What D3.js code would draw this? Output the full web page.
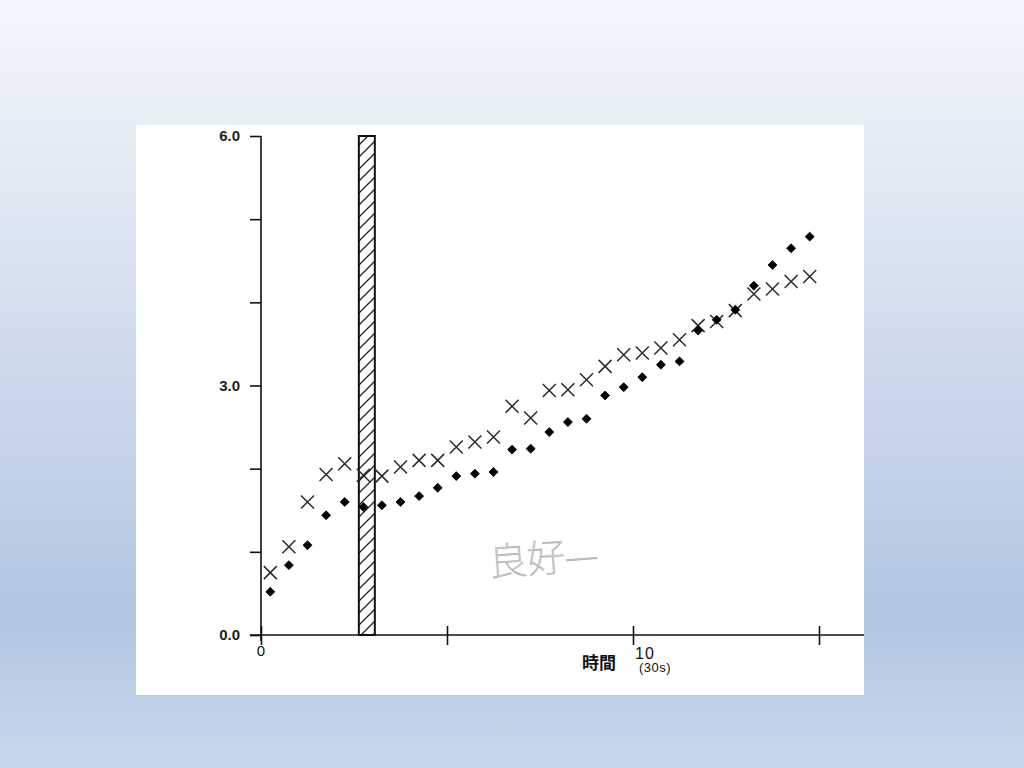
<!DOCTYPE html>
<html>
<head>
<meta charset="utf-8">
<script src="https://cdn.jsdelivr.net/npm/d3@7"></script>
<style>
  body { margin: 0; padding: 0; overflow: hidden; }
  svg { display: block; }
</style>
</head>
<body>
<svg id="chartSvg" width="1024" height="768"></svg>
<script>
        // time points (unit = 30s)
        const timePoints = [0.25, 0.75, 1.25, 1.75, 2.25, 2.75, 3.25, 3.75, 4.25, 4.75,
                            5.25, 5.75, 6.25, 6.75, 7.25, 7.75, 8.25, 8.75, 9.25, 9.75,
                            10.25, 10.75, 11.25, 11.75, 12.25, 12.75, 13.25, 13.75, 14.25, 14.75];
        // "x" series
        const crossValues = [0.75, 1.06, 1.60, 1.93, 2.06, 1.92, 1.91, 2.02, 2.10, 2.10,
                             2.26, 2.32, 2.38, 2.75, 2.61, 2.94, 2.95, 3.07, 3.23, 3.37,
                             3.39, 3.45, 3.55, 3.72, 3.77, 3.90, 4.10, 4.16, 4.25, 4.31];
        // filled diamond series
        const dotValues = [0.52, 0.84, 1.08, 1.44, 1.60, 1.54, 1.56, 1.60, 1.67, 1.77,
                           1.91, 1.94, 1.96, 2.23, 2.24, 2.44, 2.56, 2.60, 2.88, 2.98,
                           3.10, 3.25, 3.29, 3.66, 3.79, 3.91, 4.20, 4.45, 4.65, 4.79];
        // hatched interval
        const hatchBand = [2.63, 3.06];
        const hatchTop = 6.0;

        const yTicks = [0, 1, 2, 3, 4, 5, 6];
        const yLabelled = [0, 3, 6];
        const xTicks = [0, 5, 10, 15];

        const svg = d3.select('#chartSvg');
        const width = 1024, height = 768;

        // background gradient
        const defs = svg.append('defs');
        const grad = defs.append('linearGradient')
            .attr('id', 'bgGrad')
            .attr('x1', 0).attr('y1', 0).attr('x2', 0).attr('y2', 1);
        grad.append('stop').attr('offset', '0%').attr('stop-color', '#f4f7fc');
        grad.append('stop').attr('offset', '12%').attr('stop-color', '#ebf0f8');
        grad.append('stop').attr('offset', '80%').attr('stop-color', '#b2c6e1');
        grad.append('stop').attr('offset', '100%').attr('stop-color', '#c8d8ec');

        const hatch = defs.append('pattern')
            .attr('id', 'hatch')
            .attr('patternUnits', 'userSpaceOnUse')
            .attr('width', 12).attr('height', 12);
        hatch.append('rect').attr('width', 12).attr('height', 12).attr('fill', '#fff');
        hatch.append('path')
            .attr('d', 'M-3,3 L3,-3 M0,12 L12,0 M9,15 L15,9')
            .attr('stroke', '#222')
            .attr('stroke-width', 1.3);

        svg.append('rect')
            .attr('width', width).attr('height', height)
            .attr('fill', 'url(#bgGrad)');

        // scanned sheet
        svg.append('rect')
            .attr('x', 136).attr('y', 125)
            .attr('width', 728).attr('height', 570)
            .attr('fill', '#ffffff');

        const xScale = d3.scaleLinear().domain([0, 15]).range([261, 819]);
        const yScale = d3.scaleLinear().domain([0, 6]).range([635, 136]);

        const g = svg.append('g');

        // x axis line + crossing ticks
        g.append('line')
            .attr('x1', xScale(-0.3)).attr('x2', 864)
            .attr('y1', yScale(0)).attr('y2', yScale(0))
            .attr('stroke', '#111').attr('stroke-width', 1.6);

        const xAxis = d3.axisBottom(xScale)
            .tickValues(xTicks)
            .tickSize(9)
            .tickFormat('');
        const gX = g.append('g')
            .attr('transform', `translate(0,${yScale(0)})`)
            .call(xAxis);
        gX.select('.domain').remove();
        gX.selectAll('.tick line')
            .attr('y1', -9).attr('y2', 10)
            .attr('stroke', '#111').attr('stroke-width', 1.6);

        // y axis
        const yAxis = d3.axisLeft(yScale)
            .tickValues(yTicks)
            .tickSize(11)
            .tickPadding(10)
            .tickFormat(d => yLabelled.includes(d) ? d3.format('.1f')(d) : '');
        const gY = g.append('g')
            .attr('transform', `translate(${xScale(0)},0)`)
            .call(yAxis);
        gY.attr('font-size', null).attr('font-family', null);
        gY.select('.domain').remove();
        gY.selectAll('.tick line').attr('stroke', '#111').attr('stroke-width', 1.6);
        gY.selectAll('.tick text')
            .attr('font-family', 'Liberation Sans, Arial, sans-serif')
            .attr('font-size', 15)
            .attr('font-weight', 'bold')
            .attr('fill', '#222');
        g.append('line')
            .attr('x1', xScale(0)).attr('x2', xScale(0))
            .attr('y1', yScale(6)).attr('y2', yScale(0) + 6)
            .attr('stroke', '#111').attr('stroke-width', 1.6);

        // x tick labels
        g.append('text')
            .attr('x', xScale(0)).attr('y', 656)
            .attr('text-anchor', 'middle')
            .attr('font-family', 'Liberation Sans, Arial, sans-serif')
            .attr('font-size', 15)
            .attr('fill', '#111')
            .text('0');
        g.append('text')
            .attr('x', xScale(10) + 2).attr('y', 659)
            .attr('font-family', 'Liberation Sans, Arial, sans-serif')
            .attr('font-size', 16)
            .attr('letter-spacing', 1)
            .attr('fill', '#111')
            .text('10');

        // axis title
        g.append('text')
            .attr('x', 582).attr('y', 669)
            .attr('font-family', 'Noto Sans CJK JP, sans-serif')
            .attr('font-size', 17)
            .attr('font-weight', 'bold')
            .attr('fill', '#111')
            .text('時間');
        g.append('text')
            .attr('x', 639).attr('y', 672)
            .attr('font-family', 'Liberation Sans, Arial, sans-serif')
            .attr('font-size', 13)
            .attr('letter-spacing', 0.5)
            .attr('fill', '#111')
            .text('(30s)');

        // hatched bar
        g.append('rect')
            .attr('x', xScale(hatchBand[0]))
            .attr('y', yScale(hatchTop))
            .attr('width', xScale(hatchBand[1]) - xScale(hatchBand[0]))
            .attr('height', yScale(0) - yScale(hatchTop))
            .attr('fill', 'url(#hatch)')
            .attr('stroke', '#111')
            .attr('stroke-width', 2);

        // handwritten note
        g.append('text')
            .attr('x', 490).attr('y', 576)
            .attr('transform', 'rotate(-4,490,576)')
            .attr('font-family', 'Noto Sans CJK JP, sans-serif')
            .attr('font-size', 38)
            .attr('font-weight', 100)
            .attr('fill', 'none')
            .attr('stroke', '#b4b4b4')
            .attr('stroke-width', 0.8)
            .text('良好—');

        // x markers
        const crossData = timePoints.map((t, i) => ({ t: t, v: crossValues[i] }));
        g.selectAll('path.cross')
            .data(crossData)
            .enter()
            .append('path')
            .attr('class', 'cross')
            .attr('transform', d => `translate(${xScale(d.t)},${yScale(d.v)})`)
            .attr('d', 'M-6.5,-6.5L6.5,6.5M-6.5,6.5L6.5,-6.5')
            .attr('stroke', '#2a2a2a')
            .attr('stroke-width', 1.5)
            .attr('fill', 'none');

        // diamond markers
        const dotData = timePoints.map((t, i) => ({ t: t, v: dotValues[i] }));
        const diamond = d3.symbol().type(d3.symbolSquare).size(40);
        g.selectAll('path.dot')
            .data(dotData)
            .enter()
            .append('path')
            .attr('class', 'dot')
            .attr('transform', d => `translate(${xScale(d.t)},${yScale(d.v)}) rotate(45)`)
            .attr('d', diamond)
            .attr('fill', '#000')
            .attr('stroke', '#000')
            .attr('stroke-width', 0.8)
            .attr('stroke-linejoin', 'round');
</script>
</body>
</html>
